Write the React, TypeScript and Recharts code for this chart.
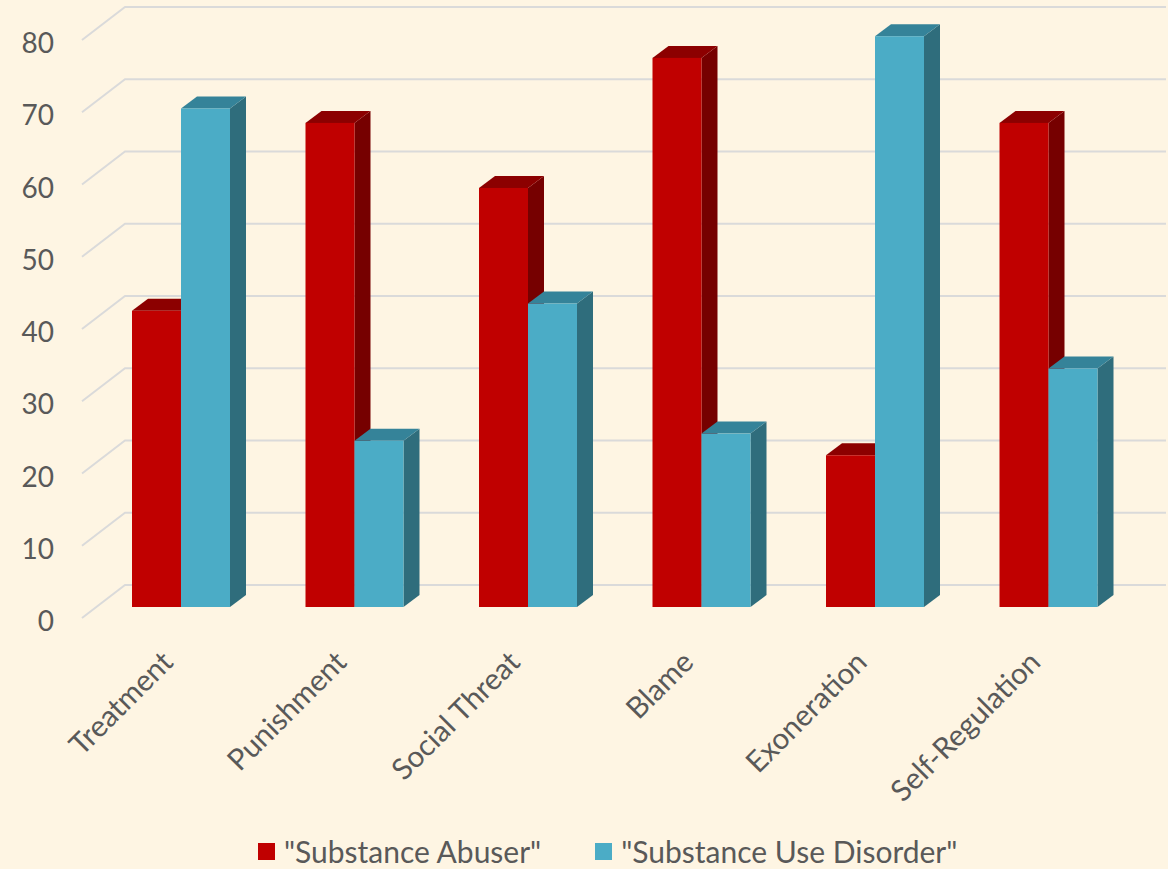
import { BarChart, Bar, XAxis, YAxis, CartesianGrid, Legend } from "recharts";

const categories = [
  "Treatment",
  "Punishment",
  "Social Threat",
  "Blame",
  "Exoneration",
  "Self-Regulation",
];
const abuserValues = [41, 67, 58, 76, 21, 67];
const disorderValues = [69, 23, 42, 24, 79, 33];
const yTicks = [0, 10, 20, 30, 40, 50, 60, 70, 80];

const seriesNames = ['"Substance Abuser"', '"Substance Use Disorder"'];

const data = categories.map((name, i) => ({
  name,
  abuser: abuserValues[i],
  disorder: disorderValues[i],
}));

const FONT = "Lato, 'Open Sans', sans-serif";
const TEXT = "#595959";
const BG = "#FEF5E3";
const GRID = "#DADADA";

// depth of the fake 3D extrusion on each bar
const DX = 16;
const DY = 12;

const palettes = {
  abuser: { front: "#C00000", top: "#8C0000", side: "#760000" },
  disorder: { front: "#4BACC6", top: "#358399", side: "#2F6D7C" },
};

type Faces = { front: string; top: string; side: string };

const boxShape = (c: Faces) => (props: any) => {
  const { x, y, width: w, height: h } = props;
  if (h == null || w == null) return <g />;
  return (
    <g>
      <polygon
        points={`${x + w},${y} ${x + w + DX},${y - DY} ${x + w + DX},${y + h - DY} ${x + w},${y + h}`}
        fill={c.side}
      />
      <polygon
        points={`${x},${y} ${x + DX},${y - DY} ${x + w + DX},${y - DY} ${x + w},${y}`}
        fill={c.top}
      />
      <rect x={x} y={y} width={w} height={h} fill={c.front} />
    </g>
  );
};

// floor-to-back-wall grid line: short slanted run, then flat along the back
const gridLine = (props: any) => {
  const y = props.y1;
  return (
    <path
      key={`g-${props.index}`}
      d={`M82,${y + 11} L125,${y - 22} L1166,${y - 22}`}
      stroke={GRID}
      strokeWidth={2}
      fill="none"
    />
  );
};

const YTick = (props: any) => {
  const { y, payload } = props;
  return (
    <text
      x={54}
      y={y + 13}
      textAnchor="end"
      dominantBaseline="central"
      fontFamily={FONT}
      fontSize={28}
      fill={TEXT}
    >
      {payload.value}
    </text>
  );
};

const XTick = (props: any) => {
  const { x, payload } = props;
  return (
    <text
      transform={`translate(${x - 6},664) rotate(-45)`}
      textAnchor="end"
      fontFamily={FONT}
      fontSize={29.5}
      fill={TEXT}
    >
      {payload.value}
    </text>
  );
};

const LegendBox = () => (
  <div style={{ display: "flex", alignItems: "center", fontFamily: FONT, fontSize: 30, color: TEXT }}>
    {seriesNames.map((n, i) => (
      <div key={n} style={{ display: "flex", alignItems: "center", marginRight: i === 0 ? 54 : 0 }}>
        <span
          style={{
            width: 17,
            height: 17,
            background: i === 0 ? palettes.abuser.front : palettes.disorder.front,
            marginRight: 9,
            display: "inline-block",
          }}
        />
        <span>{n}</span>
      </div>
    ))}
  </div>
);

export default function App() {
  return (
    <div style={{ position: "fixed", left: 0, top: 0, width: 1168, height: 869, background: BG }}>
      <BarChart
        width={1168}
        height={869}
        data={data}
        margin={{ top: 29, right: 33, bottom: 0, left: 0 }}
        barSize={49}
        barGap={0}
      >
        <CartesianGrid horizontal={gridLine} vertical={false} />
        <XAxis
          dataKey="name"
          height={262}
          axisLine={false}
          tickLine={false}
          tick={XTick}
          interval={0}
        />
        <YAxis
          width={94}
          domain={[0, 80]}
          ticks={yTicks}
          axisLine={false}
          tickLine={false}
          tick={YTick}
        />
        <Legend
          layout="horizontal"
          verticalAlign="middle"
          align="center"
          wrapperStyle={{ position: "absolute", left: 258, top: 833, width: "auto" }}
          content={LegendBox}
        />
        <Bar dataKey="abuser" name={seriesNames[0]} shape={boxShape(palettes.abuser)} isAnimationActive={false} />
        <Bar dataKey="disorder" name={seriesNames[1]} shape={boxShape(palettes.disorder)} isAnimationActive={false} />
      </BarChart>
    </div>
  );
}
